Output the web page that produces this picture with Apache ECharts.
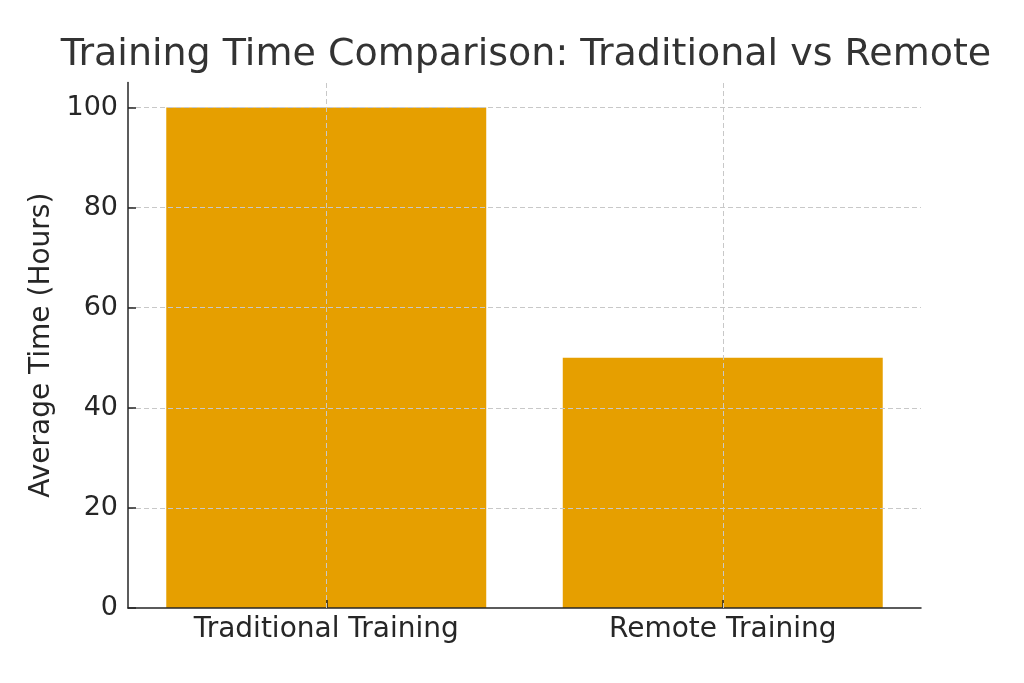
<!DOCTYPE html>
<html>
<head>
<meta charset="utf-8">
<script src="https://cdn.jsdelivr.net/npm/echarts@6/dist/echarts.min.js"></script>
<style>
  html, body { margin: 0; padding: 0; background: #fff; }
  #main { width: 1024px; height: 683px; }
</style>
</head>
<body>
<div id="main"></div>
<script>
var categories = ['Traditional Training', 'Remote Training'];
var avgHours = [100, 50];
var yTicks = [0, 20, 40, 60, 80, 100];

var chart = echarts.init(document.getElementById('main'), null, { renderer: 'canvas' });

var gridLine = {
    color: '#c8c8c8',
    width: 1,
    type: [5, 3]
};

var option = {
    backgroundColor: '#ffffff',
    animation: false,
    textStyle: { fontFamily: 'DejaVu Sans' },
    title: {
        text: 'Training Time Comparison: Traditional vs Remote',
        left: 521,
        top: 31,
        textAlign: 'center',
        textStyle: {
            fontFamily: 'DejaVu Sans',
            fontSize: 38,
            fontWeight: 'normal',
            color: '#333333'
        }
    },
    grid: {
        left: 128,
        right: 103,
        top: 82.5,
        bottom: 75,
        containLabel: false
    },
    xAxis: {
        type: 'category',
        data: categories,
        z: 3,
        axisLine: { lineStyle: { color: '#262626', width: 1.5 } },
        axisTick: { show: true, inside: true, length: 8, alignWithLabel: true, lineStyle: { color: '#262626', width: 1.5 } },
        axisLabel: { fontSize: 28, color: '#262626', margin: 8 },
        splitLine: { show: false }
    },
    yAxis: {
        type: 'value',
        min: 0,
        max: 105,
        interval: 20,
        z: 3,
        name: 'Average Time (Hours)',
        nameLocation: 'middle',
        nameGap: 63,
        nameTextStyle: { fontSize: 28, color: '#262626' },
        axisLine: { show: true, lineStyle: { color: '#262626', width: 1.5 } },
        axisTick: { show: true, inside: true, length: 8, customValues: yTicks, lineStyle: { color: '#262626', width: 1.5 } },
        axisLabel: { fontSize: 27, color: '#262626', margin: 10, customValues: yTicks },
        splitLine: { show: true, showMinLine: false, lineStyle: gridLine }
    },
    series: [
        {
            type: 'bar',
            data: avgHours,
            barWidth: '80.7%',
            itemStyle: { color: '#E69F00' },
            markLine: {
                silent: true,
                symbol: 'none',
                z: 5,
                label: { show: false },
                lineStyle: gridLine,
                data: categories.map(function (c) { return { xAxis: c }; })
            }
        }
    ]
};

chart.setOption(option);
</script>
</body>
</html>
